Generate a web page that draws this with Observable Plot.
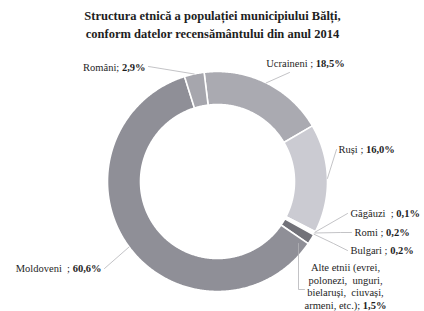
<!DOCTYPE html>
<html><head><meta charset="utf-8">
<script src="https://cdn.jsdelivr.net/npm/d3@7"></script>
<script src="https://cdn.jsdelivr.net/npm/@observablehq/plot@0.6"></script>
<style>body{margin:0;background:#fff} svg{display:block;background:#fff}</style>
</head><body><div id="chart"></div>
<script>
// ---- data ----
const groups = ["Ucraineni","Ruși","Găgăuzi","Romi","Bulgari","Alte etnii","Moldoveni","Români"];
const shares = [18.5, 16.0, 0.1, 0.2, 0.2, 1.5, 60.6, 2.9];
const labelTexts = [
  "Ucraineni ; 18,5%",
  "Ruși ; 16,0%",
  "Găgăuzi  ; 0,1%",
  "Romi ; 0,2%",
  "Bulgari ; 0,2%",
  "Alte etnii (evrei,\npolonezi,  unguri,\nbielaruși,  ciuvași,\narmeni, etc.); 1,5%",
  "Moldoveni  ; 60,6%",
  "Români; 2,9%"
];
const title = "Structura etnică a populației municipiului Bălți,\nconform datelor recensământului din anul 2014";
const colors = ["#aaaab1","#cbcbd2","#ececef","#ececef","#ececef","#727279","#8f8f97","#a6a6ad"];

// ---- layout (pixels) ----
const W = 424, H = 311, CX = 217, CY = 181, R = 110, INNER = 0.7, START = -7;
const ux = x => (x - CX) / R, uy = y => (CY - y) / R;
const labelLayout = {
  "Ucraineni": {x:305, y:63, anchor:"middle", leader:[[289,72]]},
  "Ruși": {x:338, y:149, anchor:"start", leader:[[336,149]]},
  "Găgăuzi": {x:350, y:213, anchor:"start", leader:[[347,213]]},
  "Romi": {x:354, y:232, anchor:"start", leader:[[340,232],[351,232]]},
  "Bulgari": {x:350, y:250, anchor:"start", leader:[[333,243],[347,250]]},
  "Alte etnii": {x:345, y:285.5, anchor:"middle", leader:[[298,289],[304,289]], from:[298,243]},
  "Moldoveni": {x:101, y:268, anchor:"end", leader:[[104,268]]},
  "Români": {x:145, y:67, anchor:"end", leader:[[148,66]]}
};

// ---- geometry from data ----
const total = d3.sum(shares);
let acc = START;
const slices = groups.map((g, i) => {
  const a0 = acc, a1 = acc + shares[i] / total * 360;
  acc = a1;
  return {name: g, a0, a1, mid: (a0 + a1) / 2, label: labelTexts[i]};
});
const rad = a => a * Math.PI / 180;
const polar = (a, r) => ({x: r * Math.sin(rad(a)), y: r * Math.cos(rad(a))});

const arcPts = [];
for (const s of slices) {
  const n = Math.max(2, Math.ceil((s.a1 - s.a0) / 0.5));
  const pts = [];
  for (let k = 0; k <= n; k++) pts.push(polar(s.a0 + (s.a1 - s.a0) * k / n, 1));
  for (let k = n; k >= 0; k--) pts.push(polar(s.a0 + (s.a1 - s.a0) * k / n, INNER));
  pts.push(pts[0]);
  for (const p of pts) arcPts.push({...p, name: s.name});
}

const leaderPts = [];
const labelRows = [];
for (const s of slices) {
  const L = labelLayout[s.name];
  const start = L.from ? {x: ux(L.from[0]), y: uy(L.from[1])} : polar(s.mid, 1);
  leaderPts.push({...start, name: s.name});
  for (const [px, py] of L.leader) leaderPts.push({x: ux(px), y: uy(py), name: s.name});
  labelRows.push({x: ux(L.x), y: uy(L.y), text: s.label, anchor: L.anchor});
}

const font = "Liberation Serif";
const chart = Plot.plot({
  width: W, height: H, margin: 0,
  x: {domain: [ux(0), ux(W)], axis: null},
  y: {domain: [uy(H), uy(0)], axis: null},
  color: {domain: groups, range: colors},
  style: {fontFamily: font, background: "#fff"},
  marks: [
    Plot.line(arcPts, {x: "x", y: "y", z: "name", fill: "name", stroke: "white", strokeWidth: 1.6, curve: "linear"}),
    Plot.line(leaderPts, {x: "x", y: "y", z: "name", stroke: "#b4b4b8", strokeWidth: 0.8}),
    ...["start", "middle", "end"].map(a =>
      Plot.text(labelRows.filter(d => d.anchor === a), {
        x: "x", y: "y", text: "text", textAnchor: a, fontSize: 10.5, fill: "#1e1e1e",
        fontFamily: font, lineHeight: 1.18
      })),
    Plot.text([title], {frameAnchor: "top", dx: 0, dy: 7, lineAnchor: "top", text: d => d,
      fontSize: 12.5, fontWeight: "bold", fill: "#1e1e1e", fontFamily: font, lineHeight: 1.45})
  ]
});

// bold the values
d3.select(chart).selectAll("text").each(function() {
  const nodes = this.querySelector("tspan") ? Array.from(this.querySelectorAll("tspan")) : [this];
  for (const node of nodes) {
    const m = node.textContent.match(/^(.*;\s*)(\S+%)$/);
    if (!m) continue;
    node.textContent = "";
    d3.select(node).append("tspan").text(m[1]);
    d3.select(node).append("tspan").attr("font-weight", "bold").text(m[2]);
  }
});
document.getElementById("chart").appendChild(chart);
</script>
</body></html>
